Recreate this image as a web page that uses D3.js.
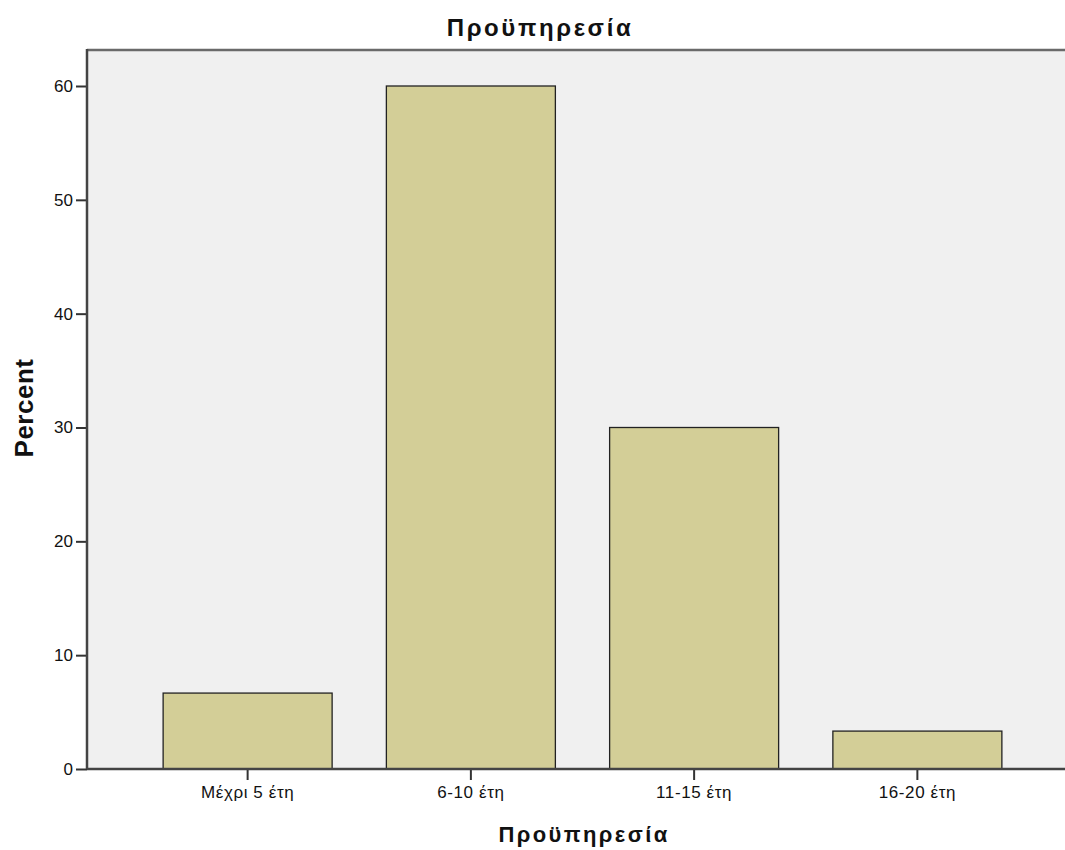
<!DOCTYPE html>
<html>
<head>
<meta charset="utf-8">
<script src="https://cdn.jsdelivr.net/npm/d3@7"></script>
<style>
  body { margin: 0; background: #fff; }
  text { font-family: "Liberation Sans", Arial, sans-serif; fill: #111; }
</style>
</head>
<body>
<svg id="svg1" width="1065" height="850"></svg>
<script>
var categories = ["Μέχρι 5 έτη", "6-10 έτη", "11-15 έτη", "16-20 έτη"];
var percents = [6.67, 60, 30, 3.33];
var yTicks = [0, 10, 20, 30, 40, 50, 60];

var svg = d3.select("#svg1"),
  margin = {top: 50, right: 0, bottom: 81, left: 87},
  width = +svg.attr("width") - margin.left - margin.right,
  height = +svg.attr("height") - margin.top - margin.bottom,
  g = svg.append("g").attr("transform", "translate(" + margin.left + "," + margin.top + ")");

var x = d3.scaleBand()
  .domain(categories)
  .range([49, 942])
  .paddingInner(0.243)
  .paddingOuter(0.1215);
var y = d3.scaleLinear()
  .domain([0, 60])
  .range([height, 36]);

// plot background
g.append("rect")
  .attr("width", width + 5)
  .attr("height", height)
  .attr("fill", "#f0f0f0");

// top border
g.append("line")
  .attr("x1", 0).attr("x2", width + 5)
  .attr("y1", 0).attr("y2", 0)
  .attr("stroke", "#6a6a6a")
  .attr("stroke-width", 2.5);

g.selectAll(".bar")
  .data(percents)
  .enter().append("rect")
    .attr("class", "bar")
    .attr("x", function(d, i) { return x(categories[i]); })
    .attr("y", function(d) { return y(d); })
    .attr("width", x.bandwidth())
    .attr("height", function(d) { return height - y(d); })
    .attr("fill", "#d3ce97")
    .attr("stroke", "#222")
    .attr("stroke-width", 1.3);

var yAxis = g.append("g")
  .call(d3.axisLeft(y).tickValues(yTicks).tickSize(11).tickPadding(3));
yAxis.select(".domain").remove();
yAxis.selectAll(".tick line").attr("stroke", "#333").attr("stroke-width", 2);
yAxis.selectAll(".tick text")
  .attr("font-size", 17)
  .attr("font-family", "Liberation Sans, Arial, sans-serif")
  .attr("fill", "#222");

var xAxis = g.append("g")
  .attr("transform", "translate(0," + height + ")")
  .call(d3.axisBottom(x).tickSize(11).tickPadding(6));
xAxis.select(".domain").remove();
xAxis.selectAll(".tick line").attr("stroke", "#333").attr("stroke-width", 2);
xAxis.selectAll(".tick text")
  .attr("font-size", 17)
  .attr("letter-spacing", 0.6)
  .attr("font-family", "Liberation Sans, Arial, sans-serif")
  .attr("fill", "#222");

// axis lines
g.append("line")
  .attr("x1", 0).attr("x2", 0)
  .attr("y1", -1).attr("y2", height)
  .attr("stroke", "#444").attr("stroke-width", 2.5);
g.append("line")
  .attr("x1", 0).attr("x2", width + 5)
  .attr("y1", height).attr("y2", height)
  .attr("stroke", "#444").attr("stroke-width", 2.5);

svg.append("text")
  .attr("x", 540)
  .attr("y", 36)
  .attr("text-anchor", "middle")
  .attr("font-size", 24)
  .attr("font-weight", "bold")
  .attr("letter-spacing", 2.6)
  .text("Προϋπηρεσία");

svg.append("text")
  .attr("x", 584)
  .attr("y", 842)
  .attr("text-anchor", "middle")
  .attr("font-size", 22)
  .attr("font-weight", "bold")
  .attr("letter-spacing", 2.4)
  .text("Προϋπηρεσία");

svg.append("text")
  .attr("transform", "translate(33,408) rotate(-90)")
  .attr("text-anchor", "middle")
  .attr("font-size", 26)
  .attr("font-weight", "bold")
  .attr("letter-spacing", 0.5)
  .text("Percent");
</script>
</body>
</html>
